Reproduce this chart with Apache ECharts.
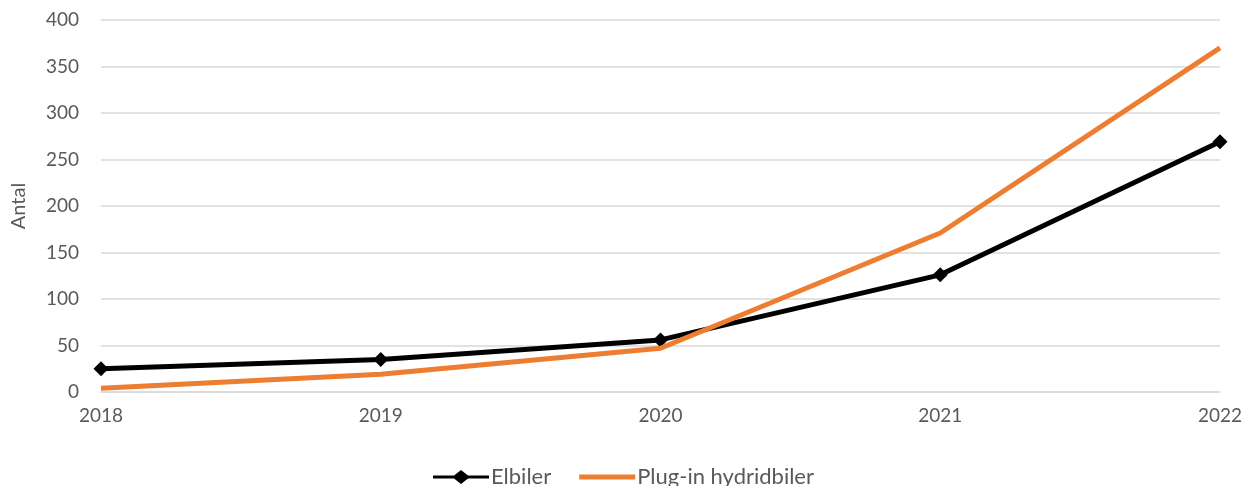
<!DOCTYPE html>
<html>
<head>
<meta charset="utf-8">
<script src="https://cdn.jsdelivr.net/npm/echarts@6/dist/echarts.min.js"></script>
<style>html,body{margin:0;padding:0;background:#fff}#c{width:1247px;height:486px}</style>
</head>
<body>
<div id="c"></div>
<script>
var years = ['2018', '2019', '2020', '2021', '2022'];
var elbiler = [25, 35, 56, 126, 269];
var plugin = [4, 19, 47, 171, 370];
var yTicks = { min: 0, max: 400, interval: 50 };

var chart = echarts.init(document.getElementById('c'), null, { renderer: 'canvas' });
var txt = '#595959';
var font = 'Lato, "Open Sans", sans-serif';
chart.setOption({
  animation: false,
  textStyle: { fontFamily: font },
  grid: { left: 101, right: 27, top: 20, bottom: 94 },
  legend: {
    top: 461,
    left: 'center',
    itemWidth: 56,
    itemHeight: 14,
    itemGap: 28,
    textStyle: { color: txt, fontSize: 22, fontFamily: font, padding: [0, 0, 0, -3] },
    data: [
      { name: 'Elbiler', icon: 'path://M0,5.5 L21,5.5 L28,0 L35,5.5 L56,5.5 L56,8.5 L35,8.5 L28,14 L21,8.5 L0,8.5 Z' },
      { name: 'Plug-in hydridbiler', icon: 'path://M0,0 L56,0 L56,5 L0,5 Z' }
    ]
  },
  xAxis: {
    type: 'category',
    data: years,
    boundaryGap: false,
    axisLine: { lineStyle: { color: '#d9d9d9', width: 1.5 } },
    axisTick: { show: false },
    axisLabel: { color: txt, fontSize: 19, margin: 14, fontFamily: font }
  },
  yAxis: {
    type: 'value',
    min: yTicks.min,
    max: yTicks.max,
    interval: yTicks.interval,
    name: 'Antal',
    nameLocation: 'middle',
    nameGap: 72,
    nameTextStyle: { color: txt, fontSize: 20, fontFamily: font },
    axisLine: { show: false },
    axisTick: { show: false },
    axisLabel: { color: txt, fontSize: 19, margin: 22, fontFamily: font },
    splitLine: { lineStyle: { color: '#d9d9d9', width: 1.5 } }
  },
  series: [
    {
      name: 'Elbiler',
      type: 'line',
      data: elbiler,
      symbol: 'diamond',
      symbolSize: 15,
      itemStyle: { color: '#000' },
      lineStyle: { color: '#000', width: 5 },
      z: 2
    },
    {
      name: 'Plug-in hydridbiler',
      type: 'line',
      data: plugin,
      symbol: 'none',
      showSymbol: false,
      itemStyle: { color: '#ED7D31' },
      lineStyle: { color: '#ED7D31', width: 5 },
      z: 3
    }
  ]
});
</script>
</body>
</html>
